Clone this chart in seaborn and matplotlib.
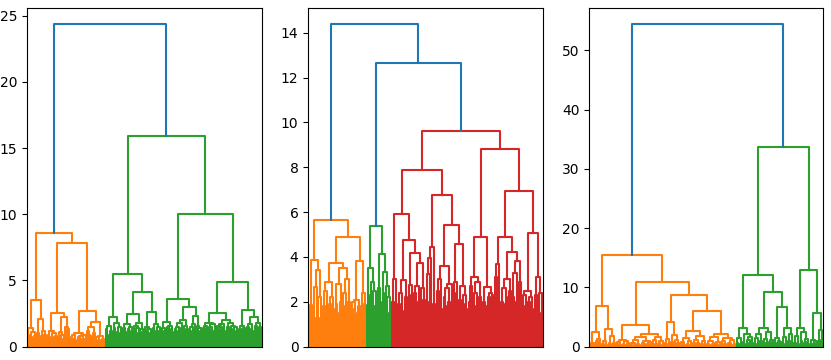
import numpy as np
import pandas as pd
import matplotlib.pyplot as plt
import seaborn as sns

# Each panel is stored as leaf groups (merge heights between neighbouring
# leaves inside the group) plus the heights that join the groups together.

# left panel: 50 + 100 leaves
left_a1 = [0.9, 1.4, 0.7, 1.1, 0.8]
left_a2 = [1.0, 0.8, 2.1, 1.2, 0.6, 0.9]
left_b1a = [0.9, 1.2, 0.7, 1.0, 0.5, 0.8]
left_b1b = [1.1, 0.6, 0.9, 2.25, 1.5, 1.3, 0.7]
left_b2a = [0.6, 0.9, 0.5, 1.0, 0.7, 0.4, 0.8, 0.6, 0.9]
left_b2b = [1.2, 0.9, 1.45, 0.8, 1.0, 1.9, 0.7, 0.5, 0.8, 0.45, 0.6]
left_g1 = [1.3, 1.6, 0.9, 1.2, 2.25, 1.4, 1.8, 1.1, 1.5, 1.0]
left_g2 = [1.4, 1.1, 1.7, 1.3, 1.5, 1.2, 2.5, 1.6, 1.0, 1.4, 1.8, 1.3, 1.1]
left_g3 = [1.5, 1.2, 1.3, 1.0, 2.6, 1.4, 1.7, 1.2, 1.5, 1.1]
left_g4 = [1.4, 1.2, 1.9, 1.5, 1.3, 1.6, 1.1]
left_g5 = [1.3, 1.5, 1.2, 1.8, 1.4, 2.0, 1.6, 1.3, 1.1]
left_g6 = [1.5, 1.2, 1.7, 2.3, 1.6, 1.4, 1.2]
left_g7 = [1.4, 1.6, 1.2, 1.8, 1.5, 1.3, 1.7, 1.2]
left_g8 = [1.6, 1.3, 1.5, 1.7, 1.2, 2.0, 1.5, 1.4, 1.8, 1.6, 1.3, 1.5, 1.2]
left_g9 = [1.3, 1.6, 1.1, 1.4]
left_g10 = [1.5, 1.3, 1.7, 1.2, 2.25, 1.6, 1.4, 1.8, 1.5]
left_groups = [left_a1, left_a2, left_b1a, left_b1b, left_b2a, left_b2b,
               left_g1, left_g2, left_g3, left_g4, left_g5, left_g6,
               left_g7, left_g8, left_g9, left_g10]
left_joins = [3.5, 8.6, 2.55, 7.8, 2.7, 24.4,
              5.5, 4.15, 15.9, 3.6, 3.0, 10.0, 2.55, 4.9, 2.75]

# middle panel: 37 + 16 + 97 leaves
mid_o1 = [1.5, 1.85]
mid_o2 = [1.3, 2.67, 3.4, 2.2, 1.3]
mid_o3 = [1.8, 2.5, 1.6, 2.9, 1.9, 2.2, 1.7]
mid_o4 = [1.9, 2.8, 1.5, 2.0, 3.52, 2.4, 1.8, 3.0, 2.0]
mid_o5 = [1.7, 2.0, 1.5, 2.1, 1.8, 1.4]
mid_o6 = [2.4, 1.9]
mid_g1 = [1.85, 3.49, 2.3, 2.9, 2.5, 1.8]
mid_g2 = [2.6, 2.0]
mid_g3 = [2.4, 3.34, 2.7, 2.2, 1.5]
mid_r1 = [2.0, 3.0, 1.6]
mid_r2 = [1.9, 2.4, 1.6, 2.97, 2.2, 1.8]
mid_r3 = [2.75, 2.3]
mid_r4 = [2.4, 2.0, 2.7, 3.71, 1.9, 2.6, 2.1]
mid_r5 = [2.0, 3.25, 3.97, 4.45, 1.9]
mid_r6 = [1.9, 2.5, 3.0, 1.7, 3.6, 2.2, 2.6, 1.8, 2.0, 2.8]
mid_r7 = [2.4, 2.9, 1.8, 4.6, 2.1, 2.7, 1.9, 2.3, 1.7]
mid_r8 = [2.0, 2.7, 3.1, 1.8, 2.4, 2.9, 1.9, 2.2]
mid_r9 = [2.0, 1.8, 2.67, 2.2, 1.9, 2.4]
mid_r10 = [2.3, 3.1, 3.7, 2.0]
mid_r11 = [2.0, 2.6, 1.9, 3.0, 2.2, 2.5]
mid_r12 = [2.2, 3.3, 2.0, 3.83, 2.9]
mid_r13 = [1.8, 2.3, 1.6, 2.5, 2.0, 2.2, 1.7]
mid_r14 = [2.3, 1.9, 3.09, 2.4, 1.5]
mid_groups = [mid_o1, mid_o2, mid_o3, mid_o4, mid_o5, mid_o6,
              mid_g1, mid_g2, mid_g3,
              mid_r1, mid_r2, mid_r3, mid_r4, mid_r5, mid_r6, mid_r7,
              mid_r8, mid_r9, mid_r10, mid_r11, mid_r12, mid_r13, mid_r14]
mid_joins = [3.86, 5.64, 3.74, 4.9, 3.83, 14.4,
             5.37, 4.11, 12.67,
             5.91, 4.75, 4.19, 7.87, 6.76, 5.42, 9.6,
             4.9, 8.8, 4.9, 4.2, 6.93, 5.08]

# right panel: 94 + 56 leaves
right_o1 = [0.4, 0.7, 0.3, 2.5, 0.9, 1.3, 0.5]
right_o2 = [0.5, 0.9, 0.3, 2.9, 0.6, 1.8, 0.4, 0.7]
right_o3 = [0.4, 0.8, 0.3, 1.2, 0.5, 0.9, 0.3, 0.6]
right_o4 = [0.3, 0.7, 0.4, 1.1, 0.5, 0.3, 1.6, 0.6, 0.4, 0.9, 0.3, 0.5, 0.8]
right_o5 = [0.5, 1.2, 0.4, 1.7, 0.6, 0.9, 0.3]
right_o6 = [0.6, 1.3, 0.5, 4.2, 0.8, 1.9, 0.4, 1.1, 0.7]
right_o7 = [0.4, 0.8, 0.3, 1.4, 0.5, 0.9, 0.3, 2.6, 0.6, 1.2, 0.4, 0.7, 1.8,
            0.5, 0.3, 0.9]
right_o8 = [0.5, 0.3, 1.0, 0.4, 1.7, 0.6, 0.3, 0.8, 2.2, 0.4, 0.9, 0.3, 1.5,
            0.5, 0.7, 0.3, 1.1, 0.4]
right_g1 = [0.6, 1.4, 0.5, 3.2, 0.8, 2.1, 0.4, 1.2, 0.7, 1.6]
right_g2 = [0.7, 1.5, 0.4, 2.2, 0.9, 3.1, 0.6, 1.3, 0.5, 2.4, 0.8, 1.1]
right_g3 = [0.5, 1.5, 0.7, 1.0]
right_g4 = [0.8, 1.6, 0.5, 3.2, 0.9, 2.2, 0.6]
right_g5 = [0.7, 1.8, 0.5, 3.2, 1.0, 2.4, 0.6, 1.3, 0.8]
right_g6 = [0.5, 1.2, 0.4, 0.9, 0.6]
right_g7 = [2.8, 1.1]
right_groups = [right_o1, right_o2, right_o3, right_o4, right_o5, right_o6,
                right_o7, right_o8,
                right_g1, right_g2, right_g3, right_g4, right_g5, right_g6,
                right_g7]
right_joins = [6.85, 15.45, 3.65, 2.2, 10.95, 8.8, 6.0, 54.5,
               12.1, 9.15, 6.75, 33.7, 12.9, 5.6]

CLUSTER_COLORS = ['#ff7f0e', '#2ca02c', '#d62728', '#9467bd']
ABOVE_COLOR = '#1f77b4'


def make_gaps(groups, joins):
    gaps = list(groups[0])
    for j, grp in zip(joins, groups[1:]):
        gaps.append(j)
        gaps.extend(grp)
    return np.array(gaps, dtype=float)


def build_links(gaps):
    """Rebuild the tree: the biggest gap in a run of leaves is its top merge"""
    links = []

    def rec(lo, hi):
        if lo == hi:
            return 5.0 + 10 * lo, 0.0, None
        k = lo + int(np.argmax(gaps[lo:hi]))
        xl, hl, il = rec(lo, k)
        xr, hr, ir = rec(k + 1, hi)
        links.append(dict(xl=xl, hl=hl, xr=xr, hr=hr, h=gaps[k], kids=(il, ir)))
        return (xl + xr) / 2, gaps[k], len(links) - 1

    _, _, root = rec(0, len(gaps))
    return links, root


def color_links(links, root, thr):
    colors = {}
    counter = [0]

    def paint(i, c):
        if i is None:
            return
        colors[i] = c
        for k in links[i]['kids']:
            paint(k, c)

    def walk(i):
        if i is None:
            return
        if links[i]['h'] >= thr:
            colors[i] = ABOVE_COLOR
            for k in links[i]['kids']:
                walk(k)
        else:
            paint(i, CLUSTER_COLORS[counter[0] % len(CLUSTER_COLORS)])
            counter[0] += 1

    walk(root)
    return colors


def dendro_frame(groups, joins):
    gaps = make_gaps(groups, joins)
    links, root = build_links(gaps)
    colors = color_links(links, root, 0.7 * gaps.max())
    rows = []
    for i, ln in enumerate(links):
        xs = [ln['xl'], ln['xl'], ln['xr'], ln['xr']]
        ys = [ln['hl'], ln['h'], ln['h'], ln['hr']]
        for x, y in zip(xs, ys):
            rows.append(dict(link=i, x=x, y=y, color=colors[i]))
    return pd.DataFrame(rows), len(gaps) + 1, gaps.max()


fig = plt.figure(figsize=(8.31, 3.6), dpi=100)
panels = [
    (left_groups, left_joins, [0.0322, 0.0370, 0.2828, 0.9420]),
    (mid_groups, mid_joins, [0.3709, 0.0370, 0.2828, 0.9420]),
    (right_groups, right_joins, [0.7091, 0.0370, 0.2816, 0.9420]),
]

for groups, joins, pos in panels:
    df, n_leaves, top = dendro_frame(groups, joins)
    ax = fig.add_axes(pos)
    pal = {c: c for c in df['color'].unique()}
    sns.lineplot(data=df, x='x', y='y', units='link', estimator=None,
                 sort=False, hue='color', palette=pal, legend=False,
                 linewidth=1.5, ax=ax)
    ax.set_xlim(0, 10 * n_leaves)
    ax.set_ylim(0, 1.05 * top)
    ax.set_xticks([])
    ax.set_xlabel('')
    ax.set_ylabel('')

fig.savefig('out.png', dpi=100)
